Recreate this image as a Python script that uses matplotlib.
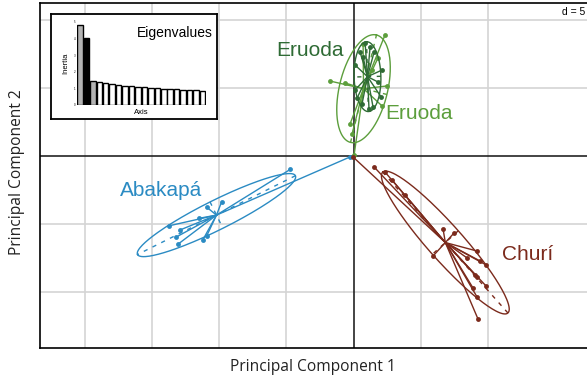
import matplotlib
matplotlib.use('Agg')
import matplotlib.pyplot as plt
import numpy as np

# group scores on PC1 / PC2
aba_x = [-0.26, -4.70, -9.81, -10.92, -11.47, -13.71, -12.91, -13.23, -13.04, -11.22, -10.92]
aba_y = [-0.07, -0.98, -3.36, -3.77, -4.58, -5.13, -5.44, -5.98, -6.47, -6.18, -5.86]

eru1_x = [0.86, 1.23, 0.48, 1.53, 0.71, 0.11, 2.12, 2.05, 1.45, 1.15, 0.26, 0.11, 0.63, 1.82]
eru1_y = [8.31, 8.01, 7.65, 7.65, 7.28, 6.69, 6.32, 4.34, 3.60, 3.46, 4.26, 4.85, 3.82, 5.44]

eru2_x = [2.34, -1.75, -0.63, 2.49, 2.12, -0.26, -0.11, 0.04, 0.71, 1.82, 1.38]
eru2_y = [8.90, 5.51, 5.37, 5.15, 3.68, 2.36, 1.62, 0.07, 8.24, 7.21, 6.32]

chu_x = [-0.04, 1.53, 2.34, 2.86, 3.83, 6.66, 7.48, 9.19, 8.45, 9.41, 9.86, 9.04, 9.19, 8.89, 9.86, 9.19, 9.26, 5.92]
chu_y = [-0.07, -0.81, -1.18, -1.76, -2.87, -5.37, -5.66, -6.99, -7.50, -7.72, -8.01, -8.75, -8.90, -9.71, -9.56, -10.37, -11.99, -7.35]

group_names = ['Abakapá', 'Eruoda', 'Eruoda', 'Churí']
group_colors = ['#2b8bc3', '#2f6b35', '#5c9e3c', '#7b2a1c']
label_pos = [(-14.32, -2.57), (-3.24, 7.79), (4.88, 3.14), (12.95, -7.28)]

# eigenvalue screeplot
eig_vals = [4.80, 4.04, 1.44, 1.36, 1.30, 1.26, 1.21, 1.17, 1.14, 1.10, 1.07,
            1.04, 1.01, 0.98, 0.96, 0.94, 0.92, 0.90, 0.88, 0.86]
eig_colors = ['#b3b3b3', '#000000', '#b3b3b3'] + ['#ffffff'] * (len(eig_vals) - 3)

grid_x = [-20, -15, -10, -5, 5, 10]
grid_y = [-10, -5, 5, 10]

W, H = 587, 383
fig = plt.figure(figsize=(W / 100, H / 100), dpi=100)
ax = fig.add_axes([40 / W, (H - 348) / H, 560 / W, 345 / H])
ax.set_xlim(-23.33, -23.33 + 560 / 13.44)
ax.set_ylim(-14.12, 11.25)

for gx in grid_x:
    ax.axvline(gx, color='#d4d4d4', lw=1.2, zorder=0)
for gy in grid_y:
    ax.axhline(gy, color='#d4d4d4', lw=1.2, zorder=0)
ax.axvline(0, color='#111111', lw=1.1, zorder=1)
ax.axhline(0, color='#111111', lw=1.1, zorder=1)

groups = [(aba_x, aba_y), (eru1_x, eru1_y), (eru2_x, eru2_y), (chu_x, chu_y)]
layer = [3, 5, 3, 3]
t = np.linspace(0, 2 * np.pi, 200)
for (gx, gy), col, name, lp, z in zip(groups, group_colors, group_names, label_pos, layer):
    x = np.array(gx)
    y = np.array(gy)
    cx, cy = x.mean(), y.mean()
    # star
    for xi, yi in zip(x, y):
        ax.plot([cx, xi], [cy, yi], color=col, lw=1.0, zorder=z)
    ax.plot(x, y, 'o', color=col, ms=3.5, mec='none', zorder=z + 0.5)
    # ellipse (cellipse = 1.5)
    cov = np.cov(np.vstack([x, y]), bias=True)
    vals, vecs = np.linalg.eigh(cov)
    a = 1.5 * np.sqrt(vals)
    ex = cx + a[1] * np.cos(t) * vecs[0, 1] + a[0] * np.sin(t) * vecs[0, 0]
    ey = cy + a[1] * np.cos(t) * vecs[1, 1] + a[0] * np.sin(t) * vecs[1, 0]
    ax.plot(ex, ey, color=col, lw=1.0, zorder=z)
    for k in range(2):
        ax.plot([cx - a[k] * vecs[0, k], cx + a[k] * vecs[0, k]],
                [cy - a[k] * vecs[1, k], cy + a[k] * vecs[1, k]],
                color=col, lw=1.0, ls=(0, (3, 4)), zorder=z)
    ax.text(lp[0], lp[1], name, color=col, fontsize=15, family='Liberation Sans',
            ha='center', va='center', zorder=7)

ax.set_xticks([])
ax.set_yticks([])
ax.spines['right'].set_visible(False)
for s in ['left', 'top', 'bottom']:
    ax.spines[s].set_linewidth(1.2)
ax.text((585 - 40) / 560, 0.975, 'd = 5', transform=ax.transAxes,
        ha='right', va='center', fontsize=7.5, family='Liberation Sans', zorder=8)

fig.text(313 / W, 1 - 367 / H, 'Principal Component 1', ha='center', va='center',
         fontsize=11.2, family='Open Sans', color='#222222')
fig.text(17 / W, 1 - 172 / H, 'Principal Component 2', ha='center', va='center',
         rotation=90, fontsize=11.2, family='Open Sans', color='#222222')

# inset with eigenvalues
box = fig.add_axes([50.7 / W, (H - 119.3) / H, 166.6 / W, 105.3 / H])
box.set_xticks([])
box.set_yticks([])
for s in box.spines.values():
    s.set_linewidth(1.3)
box.set_facecolor('white')
box.set_zorder(10)
box.text(0.97, 0.82, 'Eigenvalues', transform=box.transAxes, ha='right', va='center',
         fontsize=10, family='Liberation Sans')

inner = fig.add_axes([76.7 / W, (H - 105) / H, 129 / W, 83.3 / H])
inner.set_zorder(11)
inner.patch.set_visible(False)
n = len(eig_vals)
inner.bar(range(n), eig_vals, width=0.85, color=eig_colors, edgecolor='black', linewidth=1.0)
inner.set_xlim(-0.5, n - 0.5)
inner.set_ylim(0, 5)
for s in inner.spines.values():
    s.set_visible(False)
inner.set_xticks([])
inner.set_yticks([0, 1, 2, 3, 4, 5])
inner.tick_params(axis='y', length=0, labelsize=2, pad=1)
inner.set_ylabel('Inertia', fontsize=5.5, family='Liberation Sans', labelpad=3)
inner.set_xlabel('Axis', fontsize=5.5, family='Liberation Sans', labelpad=3)

fig.savefig('out.png', dpi=100)
